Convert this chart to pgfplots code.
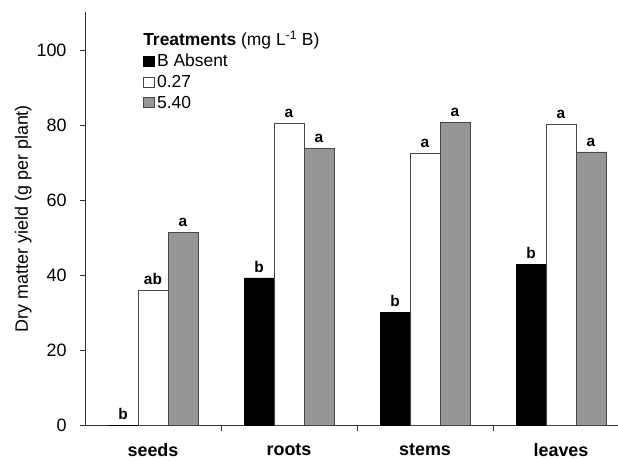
\documentclass[border=0pt]{standalone}
\usepackage{pgfplots}
\pgfplotsset{compat=1.18}
\usepackage{fontspec}
\setmainfont{Liberation Sans}
\definecolor{bargray}{RGB}{150,150,150}
\definecolor{edgegray}{RGB}{70,70,70}
\begin{document}
\begin{tikzpicture}
\begin{axis}[
  scale only axis,
  width=533bp, height=413.3bp,
  at={(0,0)}, anchor=south west,
  xmin=-0.5, xmax=3.419,
  ymin=0, ymax=110.2,
  axis lines=left,
  axis line style={-, line width=0.8bp, black!80},
  every tick/.style={line width=0.8bp, black!80},
  tick align=outside,
  ytick={0,20,40,60,80,100},
  major tick length=5bp,
  xtick={0,1,2,3},
  xticklabels={seeds,roots,stems,leaves},
  x tick label style={font=\fontsize{18}{21}\selectfont\bfseries, yshift=-10bp},
  minor xtick={0.5,1.5,2.5},
  minor tick length=6bp,
  xtick style={draw=none},
  minor x tick style={draw, line width=0.8bp, black!80},
  y tick label style={font=\fontsize{18}{21}\selectfont, xshift=-10bp},
  /pgf/number format/assume math mode=true,
  ylabel={Dry matter yield (g per plant)},
  ylabel style={font=\fontsize{18}{21}\selectfont, yshift=-2bp},
  ybar=0pt, bar width=30bp,
  nodes near coords,
  point meta=explicit symbolic,
  every node near coord/.append style={font=\fontsize{15.5}{18}\selectfont\bfseries, inner sep=0pt, anchor=south, yshift=5.5bp, black},
  legend style={draw=none, fill=none, at={(0.108,0.902)}, anchor=north west,
    font=\fontsize{17.5}{20}\selectfont, inner sep=0pt, row sep=4bp,
    nodes={inner sep=1.5bp, inner xsep=2.5bp}},
  legend cell align=left,
  legend image code/.code={\draw[#1, line width=0.8bp] (1bp,-5bp) rectangle (12bp,5bp);},
  clip=false,
]
\addplot[fill=black, draw=black] coordinates {(0,0) [b] (1,39.3) [b] (2,30.1) [b] (3,43.0) [b]};
\addplot[fill=white, draw=edgegray] coordinates {(0,36.0) [ab] (1,80.6) [a] (2,72.5) [a] (3,80.3) [a]};
\addplot[fill=bargray, draw=edgegray] coordinates {(0,51.5) [a] (1,73.9) [a] (2,80.8) [a] (3,72.9) [a]};
\legend{B Absent,0.27,5.40}
\node[anchor=base west, inner sep=0pt, font=\fontsize{17.5}{20}\selectfont] at (rel axis cs:0.1090,0.918) {\textbf{Treatments} (mg L\textsuperscript{-1} B)};
\end{axis}
\pgfresetboundingbox
\path[use as bounding box] (-85bp,-35.7bp) rectangle (533bp,425.3bp);
\end{tikzpicture}
\end{document}
